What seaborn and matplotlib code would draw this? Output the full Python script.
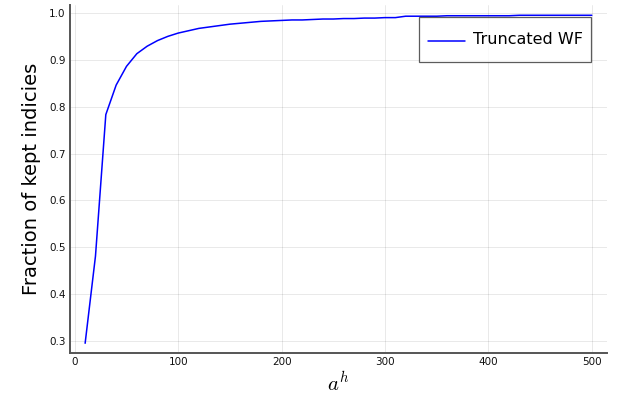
import matplotlib
matplotlib.use("Agg")
import matplotlib.pyplot as plt
import seaborn as sns
import pandas as pd
import numpy as np

# threshold a^h and the fraction of indices kept after truncation
thresholds = [10, 20, 30, 40, 50, 60, 70, 80, 90, 100,
              110, 120, 130, 140, 150, 160, 170, 180, 190, 200,
              210, 220, 230, 240, 250, 260, 270, 280, 290, 300,
              310, 320, 330, 340, 350, 360, 370, 380, 390, 400,
              410, 420, 430, 440, 450, 460, 470, 480, 490, 500]
kept_fraction = [0.295, 0.481, 0.783, 0.846, 0.886, 0.913, 0.929, 0.941, 0.950, 0.957,
                 0.962, 0.967, 0.970, 0.973, 0.976, 0.978, 0.980, 0.982, 0.983, 0.984,
                 0.985, 0.985, 0.986, 0.987, 0.987, 0.988, 0.988, 0.989, 0.989, 0.990,
                 0.990, 0.993, 0.993, 0.993, 0.993, 0.994, 0.994, 0.994, 0.994, 0.994,
                 0.994, 0.994, 0.995, 0.995, 0.995, 0.995, 0.995, 0.995, 0.995, 0.995]
series_name = "Truncated WF"

df = pd.DataFrame({"a": thresholds, "frac": kept_fraction, "series": series_name})

sns.set_style("white")
plt.rcParams["font.family"] = ["DejaVu Sans"]
plt.rcParams["mathtext.fontset"] = "cm"
plt.rcParams["text.color"] = "#000000"
plt.rcParams["axes.labelcolor"] = "#000000"

fig = plt.figure(figsize=(6.3, 3.97), dpi=100)
ax = fig.add_axes([0.111, 0.111, 0.8525, 0.8765])

sns.lineplot(data=df, x="a", y="frac", hue="series", palette=["#0000ff"],
             linewidth=1.1, ax=ax)

ax.set_xlim(-4.7, 514.7)
ax.set_ylim(0.2744, 1.017)
ax.set_xticks([0, 100, 200, 300, 400, 500])
ax.set_yticks([0.3, 0.4, 0.5, 0.6, 0.7, 0.8, 0.9, 1.0])
ax.set_yticklabels(["0.3", "0.4", "0.5", "0.6", "0.7", "0.8", "0.9", "1.0"])

ax.grid(True, color="#000000", alpha=0.1, linewidth=0.6)
for side in ("top", "right"):
    ax.spines[side].set_visible(False)
for side in ("left", "bottom"):
    ax.spines[side].set_color("#555555")
    ax.spines[side].set_linewidth(1.4)
ax.tick_params(direction="in", length=3, width=0.8, color="#333333",
               labelsize=7.5, labelcolor="#111111", pad=3)

ax.set_xlabel("$a^h$", fontsize=15, labelpad=2)
ax.set_ylabel("Fraction of kept indicies", fontsize=14, labelpad=6)

leg = ax.legend(loc="upper right", bbox_to_anchor=(0.9708, 0.9655), fontsize=11.5,
                frameon=True, fancybox=False, handlelength=2.3, handleheight=2.25,
                borderpad=0.55, handletextpad=0.5, borderaxespad=0)
leg.get_frame().set_edgecolor("#333333")
leg.get_frame().set_linewidth(0.9)
for t in leg.get_texts():
    t.set_color("#000000")
# centre the legend sample line on the label text
for ln in leg.get_lines():
    ln.set_ydata(np.asarray(ln.get_ydata()) - 4.0)

fig.savefig("out.png", dpi=100)
